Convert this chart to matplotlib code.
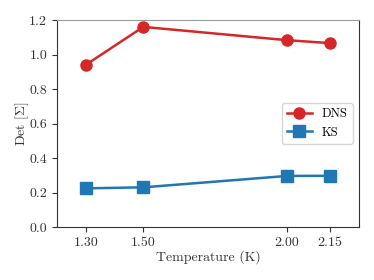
import matplotlib
matplotlib.use("Agg")
import matplotlib.pyplot as plt

temperatures = [1.30, 1.50, 2.00, 2.15]
dns_values = [0.94, 1.16, 1.083, 1.066]
ks_values = [0.224, 0.230, 0.296, 0.297]
xtick_labels = ["1.30", "1.50", "2.00", "2.15"]
yticks = [0.0, 0.2, 0.4, 0.6, 0.8, 1.0, 1.2]

plt.rcParams['font.family'] = 'serif'
plt.rcParams['font.serif'] = ['cmr10', 'DejaVu Serif']
plt.rcParams['mathtext.fontset'] = 'cm'
plt.rcParams['axes.formatter.use_mathtext'] = True

fig = plt.figure(figsize=(3.74, 2.8), dpi=100)
ax = fig.add_axes([57/374, 1-227/280, (359-57)/374, (227-20)/280])

ax.plot(temperatures, dns_values, color='#d62728', marker='o', markersize=8, lw=1.8, label='DNS')
ax.plot(temperatures, ks_values, color='#1f77b4', marker='s', markersize=8, lw=1.8, label='KS')

ax.set_xlim(1.2, 2.25)
ax.set_ylim(0, 1.2)
ax.set_xticks(temperatures)
ax.set_xticklabels(xtick_labels)
ax.set_yticks(yticks)
ax.set_yticklabels([f"{v:.1f}" for v in yticks])
ax.tick_params(labelsize=10, colors='#333333', length=3.5, width=0.8)
for lab in ax.get_xticklabels() + ax.get_yticklabels():
    lab.set_color('#333333')
for s in ['left', 'bottom', 'right']:
    ax.spines[s].set_color('#333333')
ax.spines['top'].set_color('#999999')
for s in ax.spines.values():
    s.set_linewidth(0.8)

ax.set_xlabel('Temperature (K)', fontsize=10, color='#333333', labelpad=1)
ax.set_ylabel(r'Det $[\Sigma]$', fontsize=10, color='#333333', labelpad=-1)
ax.legend(loc='center right', fontsize=9, frameon=True, framealpha=0.8, edgecolor='#cccccc')

fig.savefig('out.png', dpi=100)
